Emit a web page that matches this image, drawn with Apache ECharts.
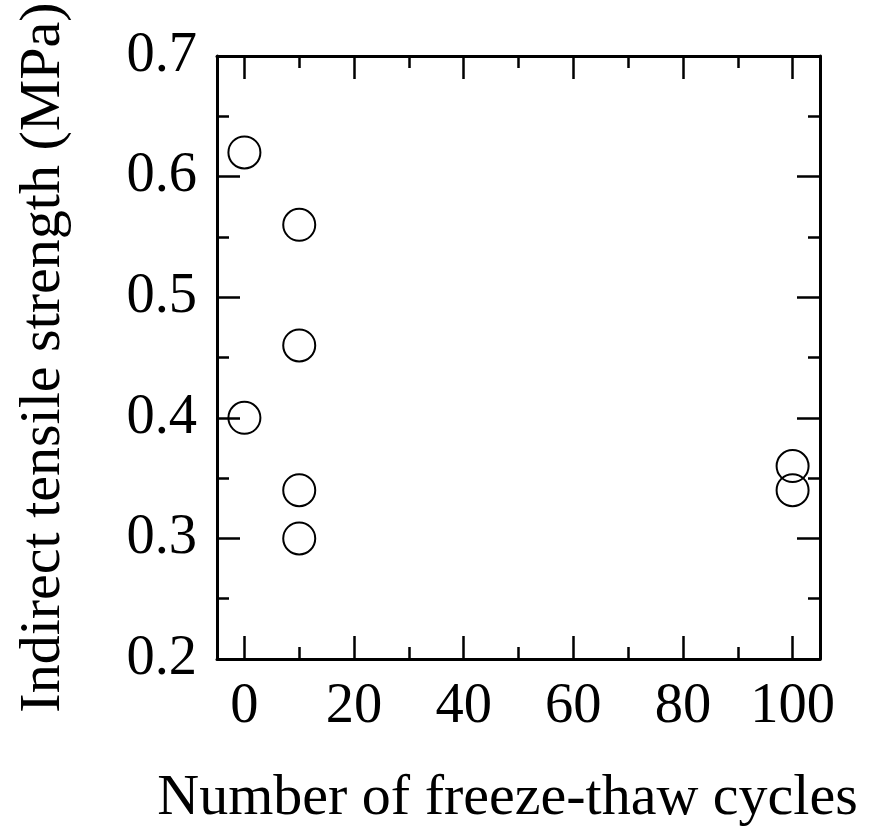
<!DOCTYPE html>
<html>
<head>
<meta charset="utf-8">
<script src="https://cdn.jsdelivr.net/npm/echarts@6/dist/echarts.min.js"></script>
<style>html,body{margin:0;padding:0;background:#fff;}#chart{width:871px;height:828px;}</style>
</head>
<body>
<div id="chart"></div>
<script>
const cycles = [0, 0, 10, 10, 10, 10, 100, 100];
const strength = [0.62, 0.40, 0.56, 0.46, 0.34, 0.30, 0.36, 0.34];
const xMajorTicks = [0, 20, 40, 60, 80, 100];
const xMinorTicks = [10, 30, 50, 70, 90];
const xTitle = 'Number of freeze-thaw cycles';
const yTitle = 'Indirect tensile strength (MPa)';

const FONT = 'Liberation Serif';
const FS = 56.5;
const TFS = 58;
const LW = 2.5;
const chart = echarts.init(document.getElementById('chart'), null, {renderer: 'canvas'});

function xAxisDef(pos, ticks, len, showLabel, showLine, name) {
  return {
    type: 'value', position: pos, min: -5, max: 105,
    axisLine: {show: showLine, onZero: false, lineStyle: {color: '#000', width: 3}},
    axisTick: {show: true, inside: true, length: len, customValues: ticks, lineStyle: {color: '#000', width: LW}},
    axisLabel: {show: showLabel, customValues: ticks, margin: 20, color: '#000', fontFamily: FONT, fontSize: FS},
    splitLine: {show: false},
    name: name || '', nameLocation: 'middle', nameGap: 111,
    nameTextStyle: {color: '#000', fontFamily: FONT, fontSize: TFS, padding: [0, 22, 0, 0]}
  };
}
function yAxisDef(pos, showLabel, name) {
  return {
    type: 'value', position: pos, min: 0.2, max: 0.7, interval: 0.1,
    axisLine: {show: true, onZero: false, lineStyle: {color: '#000', width: 3}},
    axisTick: {show: true, inside: true, length: 23, lineStyle: {color: '#000', width: LW}},
    minorTick: {show: true, splitNumber: 2, length: 12, lineStyle: {color: '#000', width: LW}},
    axisLabel: {show: showLabel, margin: 20, color: '#000', fontFamily: FONT, fontSize: FS,
      formatter: v => v.toFixed(1)},
    splitLine: {show: false}, minorSplitLine: {show: false},
    name: name || '', nameLocation: 'middle', nameGap: 144, nameRotate: 90,
    nameTextStyle: {color: '#000', fontFamily: FONT, fontSize: TFS}
  };
}

chart.setOption({
  animation: false,
  backgroundColor: '#fff',
  grid: {left: 217, right: 51, top: 56, bottom: 169, containLabel: false, outerBoundsMode: 'none'},
  xAxis: [
    xAxisDef('bottom', xMajorTicks, 23, true, true, xTitle),
    xAxisDef('bottom', xMinorTicks, 12, false, false),
    xAxisDef('top', xMajorTicks, 23, false, true),
    xAxisDef('top', xMinorTicks, 12, false, false)
  ],
  yAxis: [
    yAxisDef('left', true, yTitle),
    yAxisDef('right', false)
  ],
  series: [{
    type: 'scatter', xAxisIndex: 0, yAxisIndex: 0,
    data: cycles.map((c, i) => [c, strength[i]]),
    symbol: 'circle', symbolSize: 32,
    itemStyle: {color: 'rgba(0,0,0,0)', borderColor: '#000', borderWidth: 2, opacity: 1},
    emphasis: {disabled: true}
  }]
});
</script>
</body>
</html>
